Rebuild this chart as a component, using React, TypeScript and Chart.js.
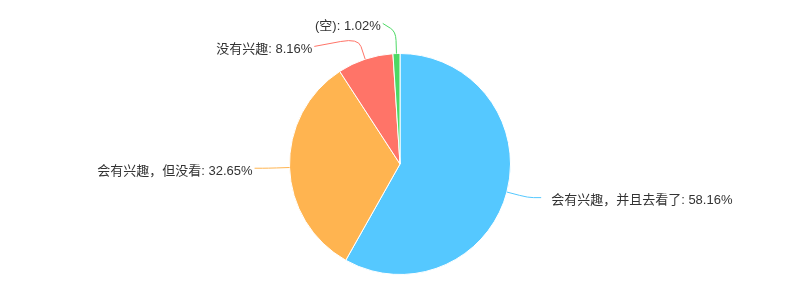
import React, { useEffect, useRef } from "react";
import { Chart, registerables } from "chart.js";

Chart.register(...registerables);

const categories = ["会有兴趣，并且去看了", "会有兴趣，但没看", "没有兴趣", "(空)"];
const percents = [58.16, 32.65, 8.16, 1.02];
const colors = ["#55C8FF", "#FFB450", "#FF7468", "#4CD964"];

const LEN1 = 22;
const LEN2 = 13;
const GAP_RIGHT = 10;
const GAP_LEFT = 2;
const MIN_SEP = 23;
const FONT = '13px "Liberation Sans", "Noto Sans CJK SC", sans-serif';

const outsideLabels = {
  id: "outsideLabels",
  afterDatasetsDraw(chart: any) {
    const ctx = chart.ctx;
    const meta = chart.getDatasetMeta(0);
    const items: any[] = [];
    meta.data.forEach((arc: any, i: number) => {
      const { x: cx, y: cy, startAngle, endAngle, outerRadius: r } = arc.getProps(
        ["x", "y", "startAngle", "endAngle", "outerRadius"],
        true
      );
      const mid = (startAngle + endAngle) / 2;
      const cos = Math.cos(mid);
      const sin = Math.sin(mid);
      const p0 = { x: cx + r * cos, y: cy + r * sin };
      const p1 = { x: cx + (r + LEN1) * cos, y: cy + (r + LEN1) * sin };
      const dir = cos >= 0 ? 1 : -1;
      items.push({ i, cx, cy, r, p0, p1, dir, y: p1.y, x: p1.x + dir * LEN2 });
    });
    [1, -1].forEach((dir) => {
      const side = items.filter((it) => it.dir === dir).sort((a, b) => a.y - b.y);
      let moved = false;
      for (let k = 0; k < 20; k++) {
        for (let j = 0; j < side.length - 1; j++) {
          const diff = side[j + 1].y - side[j].y;
          if (diff < MIN_SEP - 0.01) {
            const d = (MIN_SEP - diff) / 2;
            side[j].y -= d;
            side[j + 1].y += d;
            moved = true;
          }
        }
      }
      if (!moved || !side.length) return;
      const cx = side[0].cx;
      const cy = side[0].cy;
      ["top", "bottom"].forEach((semiName) => {
        const semi = side.filter((it) => (semiName === "top" ? it.y <= cy : it.y > cy));
        if (!semi.length) return;
        let maxY = 0;
        let rB = 0;
        semi.forEach((it) => {
          const dy = Math.abs(it.y - cy);
          if (dy >= maxY) {
            const dx = it.p1.x - cx;
            const rA = it.r + LEN1;
            rB = Math.abs(dx) < rA ? Math.sqrt((dy * dy) / (1 - (dx * dx) / rA / rA)) : rA;
            maxY = dy;
          }
        });
        semi.forEach((it) => {
          const dy = Math.abs(it.y - cy);
          const rA = it.r + LEN1;
          const dx = Math.sqrt(Math.max(0, 1 - (dy * dy) / (rB * rB)) * rA * rA);
          it.x = cx + (dx + LEN2) * dir;
        });
      });
    });

    ctx.save();
    items.forEach((it) => {
      const color = colors[it.i];
      const p2 = { x: it.x, y: it.y };
      ctx.strokeStyle = color;
      ctx.lineWidth = 1;
      ctx.beginPath();
      ctx.moveTo(it.p0.x, it.p0.y);
      const a = { x: it.p0.x + (it.p1.x - it.p0.x) * 0.6, y: it.p0.y + (it.p1.y - it.p0.y) * 0.6 };
      const b = { x: it.p1.x + (p2.x - it.p1.x) * 0.4, y: it.p1.y + (p2.y - it.p1.y) * 0.4 };
      ctx.lineTo(a.x, a.y);
      ctx.quadraticCurveTo(it.p1.x, it.p1.y, b.x, b.y);
      ctx.lineTo(p2.x, p2.y);
      ctx.stroke();

      ctx.fillStyle = "#333";
      ctx.font = FONT;
      ctx.textBaseline = "middle";
      ctx.textAlign = it.dir > 0 ? "left" : "right";
      const text = `${categories[it.i]}: ${percents[it.i].toFixed(2)}%`;
      ctx.fillText(text, p2.x + it.dir * (it.dir > 0 ? GAP_RIGHT : GAP_LEFT), p2.y + 3);
    });
    ctx.restore();
  },
};

export default function App() {
  const ref = useRef<HTMLCanvasElement | null>(null);
  useEffect(() => {
    document.body.style.margin = "0";
    const chart = new Chart(ref.current as HTMLCanvasElement, {
      type: "pie",
      data: {
        labels: categories,
        datasets: [
          {
            data: percents,
            backgroundColor: colors,
            borderColor: "#ffffff",
            borderWidth: 1,
          },
        ],
      },
      options: {
        responsive: false,
        animation: false,
        layout: { padding: { top: 53, bottom: 25, left: 0, right: 0 } },
        plugins: {
          legend: { display: false },
          tooltip: { enabled: false },
        },
      },
      plugins: [outsideLabels],
    });
    return () => chart.destroy();
  }, []);
  return (
    <div style={{ width: 800, height: 300 }}>
      <canvas ref={ref} width={800} height={300} style={{ display: "block" }} />
    </div>
  );
}
